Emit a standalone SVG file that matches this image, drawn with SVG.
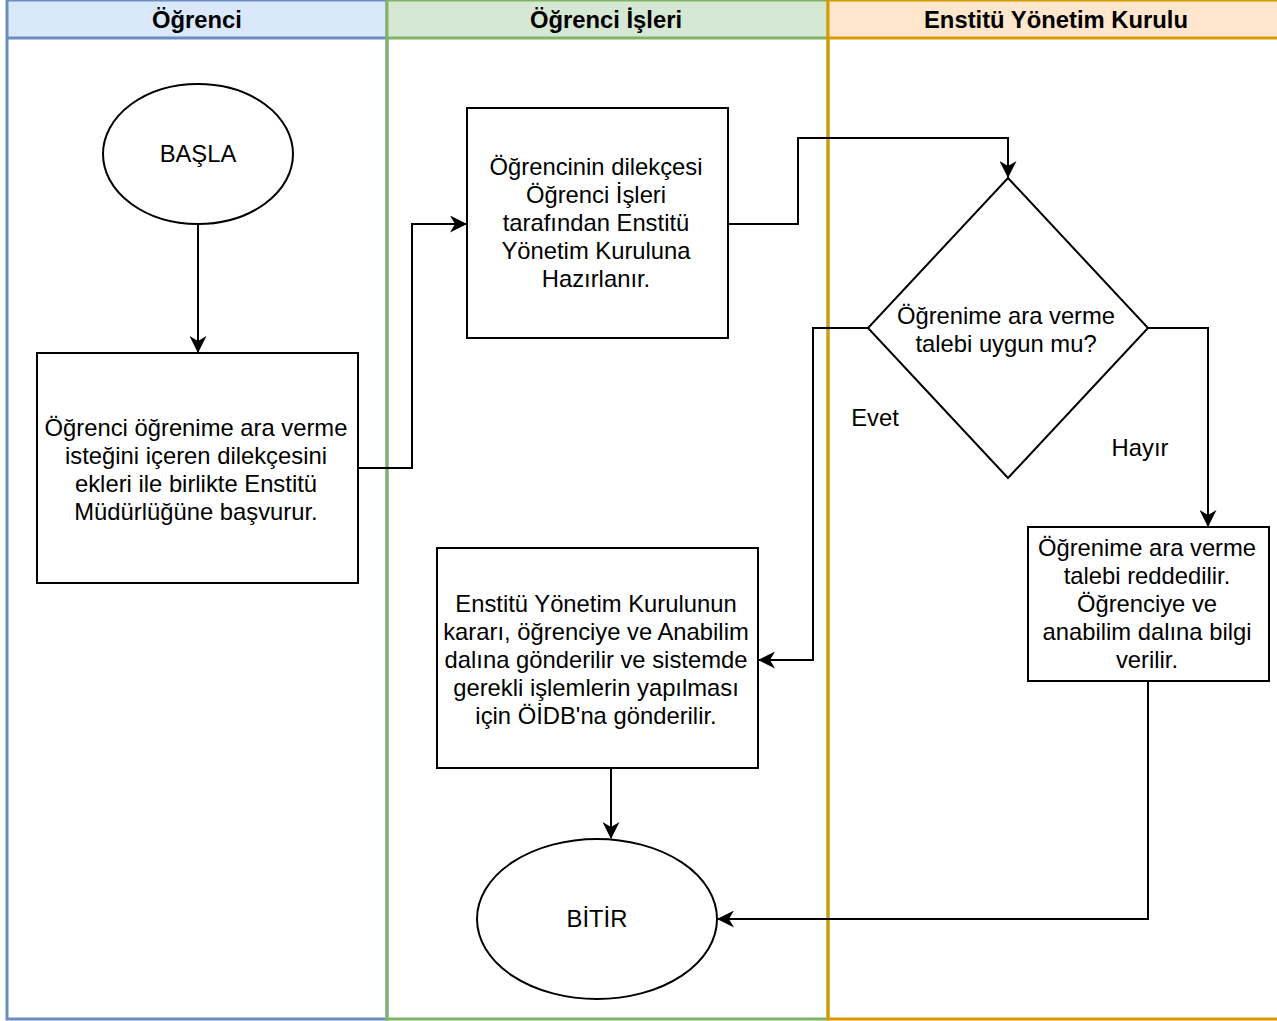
<svg xmlns="http://www.w3.org/2000/svg" width="1277" height="1021" viewBox="0 0 1277 1021">
<style>
  .lbl { font-family: "Liberation Sans", Arial, sans-serif; font-size: 23.8px; fill: #000; text-anchor: middle; }
  .hdr { font-family: "Liberation Sans", Arial, sans-serif; font-size: 23.8px; font-weight: bold; fill: #000; text-anchor: middle; }
  .shape { fill: #fff; stroke: #000; stroke-width: 2; }
  .edge { fill: none; stroke: #000; stroke-width: 2; }
</style>
<defs>
  <marker id="arrow" viewBox="0 0 17 17" refX="16" refY="8.5" markerWidth="17" markerHeight="17" markerUnits="userSpaceOnUse" orient="auto">
    <path d="M0,0 L17,8.5 L0,17 L5,8.5 Z" fill="#000"/>
  </marker>
</defs>
<rect width="1277" height="1021" fill="#fff"/>

<!-- swimlanes -->
<g id="lane-ogrenci">
  <rect x="7" y="0" width="380" height="38" fill="#dae8fc"/>
  <rect x="7" y="0" width="380" height="1019" fill="none" stroke="#6c8ebf" stroke-width="3"/>
  <line x1="7" y1="38" x2="387" y2="38" stroke="#6c8ebf" stroke-width="3"/>
  <text class="hdr" x="197" y="28">Öğrenci</text>
</g>
<g id="lane-ogrenci-isleri">
  <rect x="387" y="0" width="441" height="38" fill="#d5e8d4"/>
  <rect x="387" y="0" width="441" height="1019" fill="none" stroke="#82b366" stroke-width="3"/>
  <line x1="387" y1="38" x2="828" y2="38" stroke="#82b366" stroke-width="3"/>
  <text class="hdr" x="606" y="28">Öğrenci İşleri</text>
</g>
<g id="lane-eyk">
  <rect x="828" y="0" width="452" height="38" fill="#ffe6cc"/>
  <rect x="828" y="0" width="452" height="1019" fill="none" stroke="#d79b00" stroke-width="3"/>
  <line x1="828" y1="38" x2="1280" y2="38" stroke="#d79b00" stroke-width="3"/>
  <text class="hdr" x="1056" y="28">Enstitü Yönetim Kurulu</text>
</g>

<!-- connectors -->
<g id="connectors">
  <path class="edge" d="M198,224 L198,352" marker-end="url(#arrow)"/>
  <path class="edge" d="M358,468 L412,468 L412,224 L466,224" marker-end="url(#arrow)"/>
  <path class="edge" d="M728,224 L798,224 L798,138 L1008,138 L1008,177" marker-end="url(#arrow)"/>
  <path class="edge" d="M868,328 L813,328 L813,660 L759,660" marker-end="url(#arrow)"/>
  <path class="edge" d="M1148,328 L1208,328 L1208,526" marker-end="url(#arrow)"/>
  <path class="edge" d="M611,768 L611,838" marker-end="url(#arrow)"/>
  <path class="edge" d="M1148,681 L1148,919 L718,919" marker-end="url(#arrow)"/>
  <text class="lbl" x="875" y="426">Evet</text>
  <text class="lbl" x="1140" y="456">Hayır</text>
</g>

<!-- nodes -->
<g id="basla">
  <ellipse class="shape" cx="198" cy="154" rx="95" ry="70"/>
  <text class="lbl" x="198" y="162">BAŞLA</text>
</g>
<g id="basvuru">
  <rect class="shape" x="37" y="353" width="321" height="230"/>
  <text class="lbl" x="196" y="436">Öğrenci öğrenime ara verme</text>
  <text class="lbl" x="196" y="464">isteğini içeren dilekçesini</text>
  <text class="lbl" x="196" y="492">ekleri ile birlikte Enstitü</text>
  <text class="lbl" x="196" y="520">Müdürlüğüne başvurur.</text>
</g>
<g id="hazirlama">
  <rect class="shape" x="467" y="108" width="261" height="230"/>
  <text class="lbl" x="596" y="175">Öğrencinin dilekçesi</text>
  <text class="lbl" x="596" y="203">Öğrenci İşleri</text>
  <text class="lbl" x="596" y="231">tarafından Enstitü</text>
  <text class="lbl" x="596" y="259">Yönetim Kuruluna</text>
  <text class="lbl" x="596" y="287">Hazırlanır.</text>
</g>
<g id="karar">
  <polygon class="shape" points="1008,178 1148,328 1008,478 868,328"/>
  <text class="lbl" x="1006" y="324">Öğrenime ara verme</text>
  <text class="lbl" x="1006" y="352">talebi uygun mu?</text>
</g>
<g id="gonderim">
  <rect class="shape" x="437" y="548" width="321" height="220"/>
  <text class="lbl" x="596" y="612">Enstitü Yönetim Kurulunun</text>
  <text class="lbl" x="596" y="640">kararı, öğrenciye ve Anabilim</text>
  <text class="lbl" x="596" y="668">dalına gönderilir ve sistemde</text>
  <text class="lbl" x="596" y="696">gerekli işlemlerin yapılması</text>
  <text class="lbl" x="596" y="724">için ÖİDB'na gönderilir.</text>
</g>
<g id="red">
  <rect class="shape" x="1028" y="527" width="241" height="154"/>
  <text class="lbl" x="1147" y="556">Öğrenime ara verme</text>
  <text class="lbl" x="1147" y="584">talebi reddedilir.</text>
  <text class="lbl" x="1147" y="612">Öğrenciye ve</text>
  <text class="lbl" x="1147" y="640">anabilim dalına bilgi</text>
  <text class="lbl" x="1147" y="668">verilir.</text>
</g>
<g id="bitir">
  <ellipse class="shape" cx="597" cy="919" rx="120" ry="80"/>
  <text class="lbl" x="597" y="927">BİTİR</text>
</g>
</svg>
